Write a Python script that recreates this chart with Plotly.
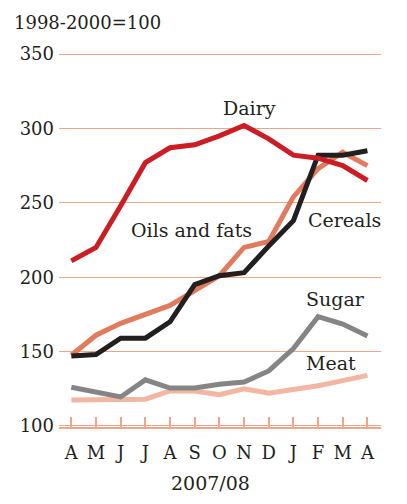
import plotly.graph_objects as go

months = ["A", "M", "J", "J", "A", "S", "O", "N", "D", "J", "F", "M", "A"]
dairy = [211, 220, 248, 277, 287, 289, 295, 302, 293, 282, 280, 275, 265]
cereals = [147, 148, 159, 159, 170, 195, 201, 203, 221, 238, 282, 282, 285]
oils = [147.5, 161, 169, 175, 181, 191, 201, 220, 224, 254, 273, 284, 275]
sugar = [126, 122.5, 119.5, 131, 125.5, 125.5, 128, 129.5, 137, 152, 173.5, 168.5, 160.5]
meat = [117.5, 117.5, 117.5, 118, 123.5, 123.5, 121, 125, 122, 124.5, 127, 130.5, 134]
y_ticks = [100, 150, 200, 250, 300, 350]

FONT = "DejaVu Serif"
GRID = "#f0a488"
INK = "#231f20"
x = list(range(len(months)))

series = [
    ("Meat", meat, "#f2b6a2"),
    ("Sugar", sugar, "#858585"),
    ("Oils and fats", oils, "#e07b5e"),
    ("Cereals", cereals, "#231f20"),
    ("Dairy", dairy, "#cc1c24"),
]

fig = go.Figure()
for name, vals, col in series:
    fig.add_trace(go.Scatter(x=x, y=vals, mode="lines", name=name,
                             line=dict(color=col, width=5), showlegend=False))

labels = [
    ("Dairy", 7.24, 313.7),
    ("Oils and fats", 4.86, 231.7),
    ("Cereals", 11.09, 238.4),
    ("Sugar", 10.69, 185.3),
    ("Meat", 10.53, 142.3),
]
for t, lx, ly in labels:
    fig.add_annotation(x=lx, y=ly, text=t, showarrow=False,
                       font=dict(family=FONT, size=19, color=INK))

fig.add_annotation(xref="paper", yref="paper", x=-0.146, y=1.081, xanchor="left",
                   yanchor="middle", text="1998-2000=100", showarrow=False,
                   font=dict(family=FONT, size=18, color=INK))
fig.add_annotation(xref="paper", yref="paper", x=0.469, y=-0.1505, xanchor="center",
                   yanchor="middle", text="2007/08", showarrow=False,
                   font=dict(family=FONT, size=19, color=INK))

# page body has an 8px default margin; compensate in figure size/margins
fig.update_layout(
    width=399, height=496,
    margin=dict(l=51, r=26, t=45, b=77),
    paper_bgcolor="white", plot_bgcolor="white",
    font=dict(family=FONT, color=INK),
)
fig.update_xaxes(range=[-0.5, 12.55], tickvals=x, ticktext=months,
                 showgrid=False, zeroline=False,
                 showline=True, linecolor=GRID, linewidth=2,
                 ticks="inside", ticklen=10, tickcolor=GRID, tickwidth=1.5,
                 ticklabelstandoff=8,
                 tickfont=dict(family=FONT, size=18, color=INK))
fig.update_yaxes(range=[99.3, 350.7], tickvals=y_ticks, showgrid=True,
                 gridcolor=GRID, gridwidth=1, zeroline=False, showline=False,
                 ticks="", ticklabelstandoff=4,
                 tickfont=dict(family=FONT, size=18, color=INK))

fig.write_html("out.html")
